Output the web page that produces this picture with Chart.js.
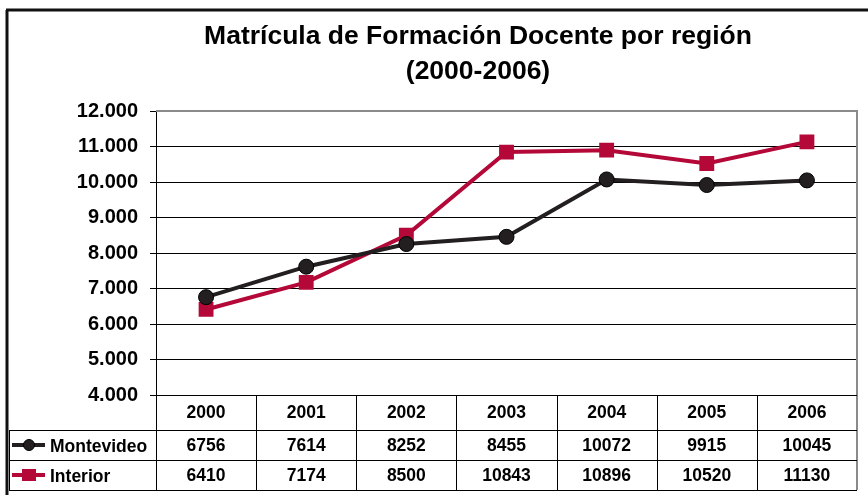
<!DOCTYPE html>
<html>
<head>
<meta charset="utf-8">
<script src="https://cdn.jsdelivr.net/npm/chart.js@4.4.1/dist/chart.umd.min.js"></script>
<style>
    html, body { margin: 0; padding: 0; background: #fff; }
    #wrap { width: 868px; height: 495px; position: relative; }
</style>
</head>
<body>
<div id="wrap"><canvas id="regionChart"></canvas></div>
<script>
// Data
const years = ['2000', '2001', '2002', '2003', '2004', '2005', '2006'];
const montevideo = [6756, 7614, 8252, 8455, 10072, 9915, 10045];
const interior = [6410, 7174, 8500, 10843, 10896, 10520, 11130];
const yTicks = [4000, 5000, 6000, 7000, 8000, 9000, 10000, 11000, 12000];
const titleLines = ['Matrícula de Formación Docente por región', '(2000-2006)'];

const FONT = 'Arial, "Liberation Sans", sans-serif';
const DARK = '#231f20';
const RED = '#b30838';

function fmtThousands(v) {
    return String(v).replace(/\B(?=(\d{3})+(?!\d))/g, '.');
}

// frame, title, plot border and data table under the plot
const tablePlugin = {
    id: 'dataTable',
    beforeDraw(chart) {
        const ctx = chart.ctx;
        ctx.save();
        ctx.fillStyle = '#fff';
        ctx.fillRect(0, 0, chart.width, chart.height);
        ctx.strokeStyle = '#111';
        ctx.lineWidth = 3;
        ctx.beginPath();
        ctx.moveTo(6, 10);
        ctx.lineTo(chart.width, 10);
        ctx.moveTo(7, 10);
        ctx.lineTo(7, chart.height);
        ctx.stroke();

        // title, centred a little right of the frame centre
        ctx.fillStyle = '#000';
        ctx.font = 'bold 26.5px ' + FONT;
        ctx.textAlign = 'center';
        ctx.textBaseline = 'middle';
        ctx.fillText(titleLines[0], 478, 37);
        ctx.fillText(titleLines[1], 478, 72);
        ctx.restore();
    },
    afterDatasetsDraw(chart) {
        const ctx = chart.ctx;
        const area = chart.chartArea;
        const x = chart.scales.x;
        const step = x.getPixelForValue(1) - x.getPixelForValue(0);
        const left = x.getPixelForValue(0) - step / 2;
        const right = x.getPixelForValue(years.length - 1) + step / 2;
        const top = area.bottom;
        const rowH = [35, 30, 30];
        const y1 = top + rowH[0], y2 = y1 + rowH[1], y3 = y2 + rowH[2];
        const legLeft = 9;

        ctx.save();
        // plot border (top and right)
        ctx.strokeStyle = '#8a8a8a';
        ctx.lineWidth = 2;
        ctx.beginPath();
        ctx.moveTo(area.left, area.top);
        ctx.lineTo(area.right, area.top);
        ctx.lineTo(area.right, y3);
        ctx.stroke();

        ctx.strokeStyle = '#000';
        ctx.lineWidth = 1;
        ctx.beginPath();
        ctx.moveTo(left, top + 0.5); ctx.lineTo(right, top + 0.5);
        ctx.moveTo(legLeft, y1 + 0.5); ctx.lineTo(right, y1 + 0.5);
        ctx.moveTo(legLeft, y2 + 0.5); ctx.lineTo(right, y2 + 0.5);
        ctx.moveTo(legLeft, y3 + 0.5); ctx.lineTo(right, y3 + 0.5);
        ctx.moveTo(legLeft + 0.5, y1); ctx.lineTo(legLeft + 0.5, y3);
        for (let i = 0; i < years.length; i++) {
            const bx = Math.round(x.getPixelForValue(i) - step / 2) + 0.5;
            ctx.moveTo(bx, top); ctx.lineTo(bx, y3);
        }
        ctx.stroke();

        ctx.fillStyle = '#000';
        ctx.font = 'bold 17.5px ' + FONT;
        ctx.textAlign = 'center';
        ctx.textBaseline = 'middle';
        years.forEach((yr, i) => {
            const cx = x.getPixelForValue(i);
            ctx.fillText(yr, cx, top + rowH[0] / 2 + 1);
            ctx.fillText(String(montevideo[i]), cx, y1 + rowH[1] / 2 + 1);
            ctx.fillText(String(interior[i]), cx, y2 + rowH[2] / 2 + 1);
        });

        // legend keys inside the table
        const rows = [
            { label: 'Montevideo', color: DARK, shape: 'circle', y: y1 + rowH[1] / 2 },
            { label: 'Interior', color: RED, shape: 'rect', y: y2 + rowH[2] / 2 }
        ];
        rows.forEach(r => {
            ctx.strokeStyle = r.color;
            ctx.lineWidth = 4;
            ctx.beginPath();
            ctx.moveTo(12, r.y);
            ctx.lineTo(45, r.y);
            ctx.stroke();
            ctx.fillStyle = r.color;
            if (r.shape === 'circle') {
                ctx.beginPath();
                ctx.arc(29, r.y, 5.5, 0, Math.PI * 2);
                ctx.fill();
                ctx.strokeStyle = '#000';
                ctx.lineWidth = 1;
                ctx.stroke();
            } else {
                ctx.fillRect(22, r.y - 6, 14, 12);
            }
            ctx.fillStyle = '#000';
            ctx.textAlign = 'left';
            ctx.fillText(r.label, 50, r.y + 2);
        });
        ctx.restore();
    }
};

const ctx = document.getElementById('regionChart').getContext('2d');
new Chart(ctx, {
    type: 'line',
    data: {
        labels: years,
        datasets: [
            {
                label: 'Montevideo',
                data: montevideo,
                borderColor: DARK,
                backgroundColor: DARK,
                borderWidth: 4,
                pointStyle: 'circle',
                pointRadius: 7.5,
                pointBorderColor: '#000',
                pointBorderWidth: 1,
                tension: 0
            },
            {
                label: 'Interior',
                data: interior,
                borderColor: RED,
                backgroundColor: RED,
                borderWidth: 4,
                pointStyle: 'rect',
                pointRadius: 10.5,
                pointBorderWidth: 0,
                tension: 0
            }
        ]
    },
    options: {
        responsive: true,
        maintainAspectRatio: false,
        animation: false,
        layout: { padding: { top: 111, right: 11, bottom: 100, left: 8 } },
        plugins: {
            legend: { display: false },
            tooltip: { enabled: false },
            title: { display: false }
        },
        scales: {
            x: {
                offset: true,
                grid: { display: false },
                border: { display: true, color: '#000', width: 1 },
                ticks: { display: false },
                afterFit: s => { s.height = 0; }
            },
            y: {
                min: 4000,
                max: 12000,
                afterBuildTicks: s => { s.ticks = yTicks.map(v => ({ value: v })); },
                afterFit: s => { s.width = 148; },
                grid: {
                    color: '#000',
                    lineWidth: 1,
                    drawTicks: true,
                    tickLength: 6
                },
                border: { display: true, color: '#000', width: 1 },
                ticks: {
                    color: '#000',
                    padding: 12,
                    font: { family: FONT, size: 20, weight: 'bold' },
                    callback: v => fmtThousands(v)
                }
            }
        }
    },
    plugins: [tablePlugin]
});
</script>
</body>
</html>
